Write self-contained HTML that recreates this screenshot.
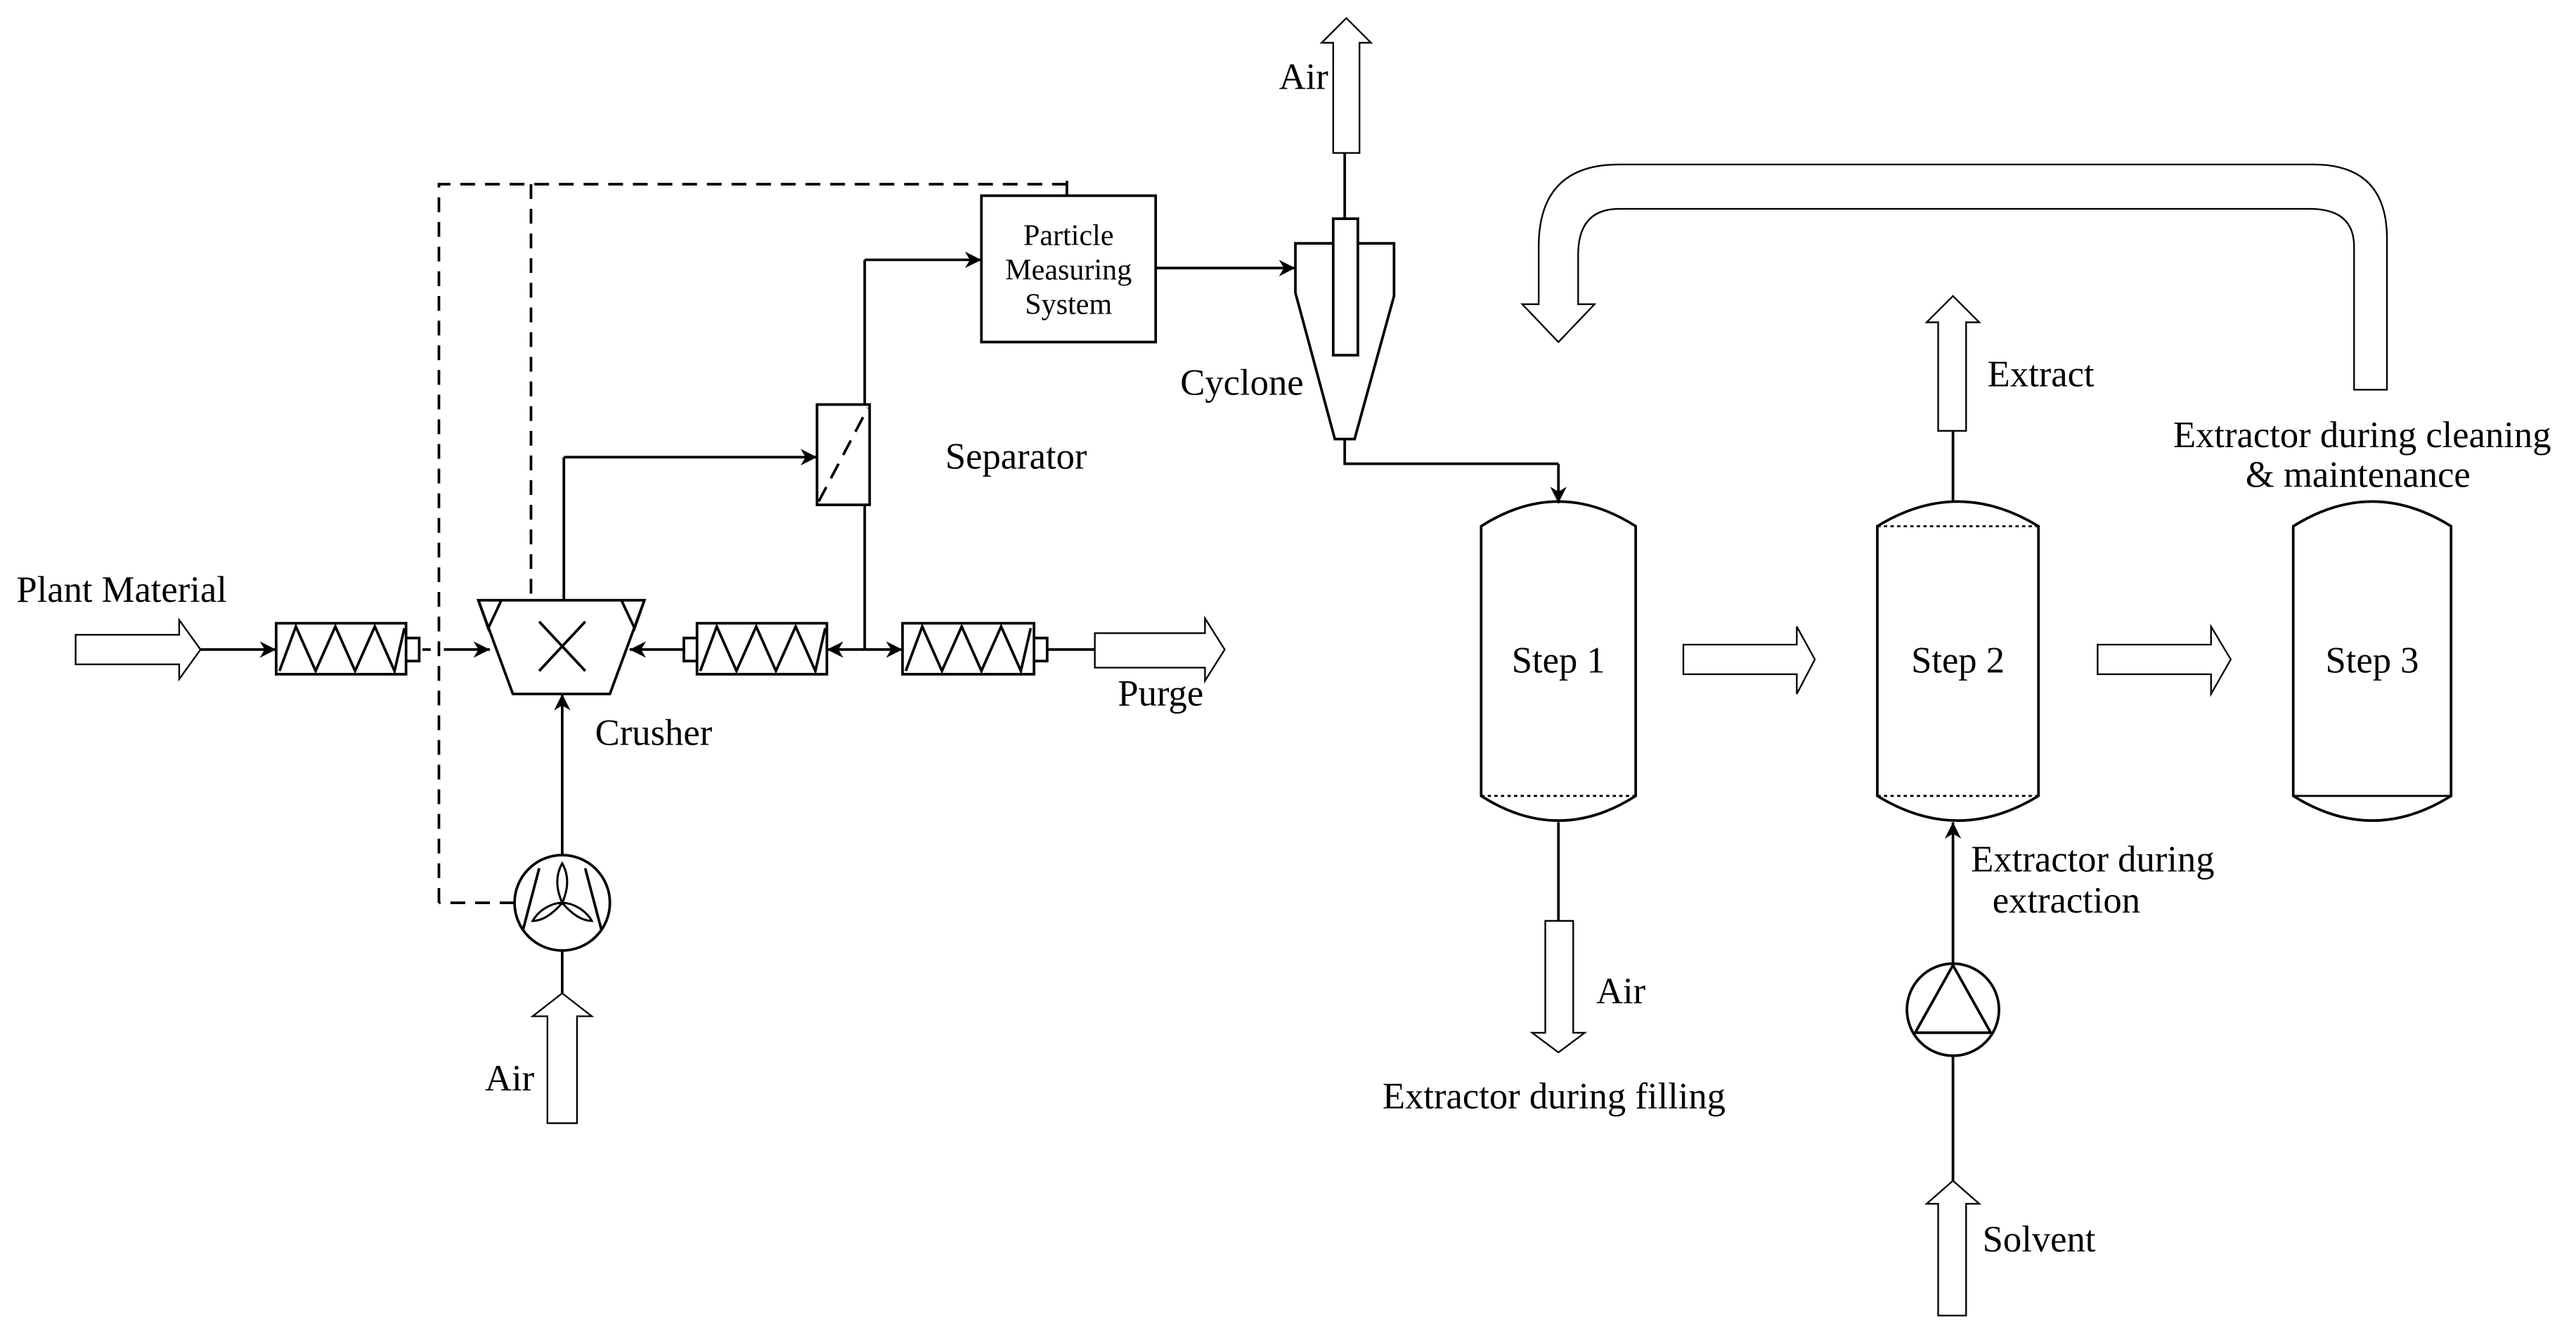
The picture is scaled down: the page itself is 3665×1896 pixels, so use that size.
<!DOCTYPE html>
<html><head><style>html,body{margin:0;padding:0;background:#fff}svg{display:block}</style></head><body>
<svg width="3665" height="1896" viewBox="0 0 1567 810.6" preserveAspectRatio="none" xmlns="http://www.w3.org/2000/svg" font-family="'Liberation Serif', serif" font-size="22.5">
<defs>
<marker id="a" viewBox="0 0 10 10" refX="10" refY="5" markerWidth="10" markerHeight="10" markerUnits="userSpaceOnUse" orient="auto"><path d="M0,0 L10,5 L0,10 L3,5 z" fill="#000"/></marker>
</defs>
<g stroke="#000" fill="none" stroke-width="1.6">
<path d="M46,386 H109 V377 L122,395 L109,413 V404 H46 Z" stroke-width="1"/>
<line x1="122" y1="395" x2="168" y2="395" marker-end="url(#a)"/>
<rect x="168" y="379" width="79" height="31"/>
<path d="M247,388 H255 V402 H247"/>
<path d="M170,408 L180,381 L192,408 L204,381 L216,408 L228,381 L240,408 L246,382"/>
<line x1="257" y1="395" x2="262" y2="395" stroke-dasharray="5,4"/>
<line x1="270" y1="395" x2="298" y2="395" marker-end="url(#a)"/>
<path d="M267,549 V112 H649" stroke-dasharray="9,6"/>
<path d="M313,549 H267" stroke-dasharray="9,6"/>
<path d="M323,112 V365" stroke-dasharray="9,6"/>
<line x1="649" y1="110" x2="649" y2="119"/>
<path d="M291,365 H392 L371,422 H312 Z"/>
<path d="M291,365 L297,382 L305,365 M392,365 L386,382 L378,365"/>
<path d="M328,378 L356,408 M356,378 L328,408"/>
<line x1="343" y1="365" x2="343" y2="278"/>
<line x1="343" y1="278" x2="497" y2="278" marker-end="url(#a)"/>
<rect x="497" y="246" width="32" height="61"/>
<line x1="498" y1="305" x2="528" y2="248" stroke-dasharray="10,6"/>
<line x1="526" y1="246" x2="526" y2="158"/>
<line x1="526" y1="158" x2="597" y2="158" marker-end="url(#a)"/>
<line x1="526" y1="307" x2="526" y2="395"/>
<rect x="597" y="119" width="106" height="89"/>
<line x1="703" y1="163" x2="788" y2="163" marker-end="url(#a)"/>
<rect x="424" y="379" width="79" height="31"/>
<path d="M424,388 H416 V402 H424"/>
<path d="M426,408 L436,381 L448,408 L460,381 L472,408 L484,381 L496,408 L502,382"/>
<line x1="526" y1="395" x2="503" y2="395" marker-end="url(#a)"/>
<line x1="416" y1="395" x2="383" y2="395" marker-end="url(#a)"/>
<rect x="549" y="379" width="80" height="31"/>
<path d="M629,388 H637 V402 H629"/>
<path d="M551,408 L561,381 L573,408 L585,381 L597,408 L609,381 L621,408 L627,382"/>
<line x1="526" y1="395" x2="549" y2="395" marker-end="url(#a)"/>
<line x1="637" y1="395" x2="666" y2="395"/>
<path d="M666,385 H733 V376 L745,395 L733,414 V406 H666 Z" stroke-width="1"/>
<circle cx="342" cy="549" r="29"/>
<path d="M318,566 L328,528 M366,566 L356,528"/>
<path d="M342,549 C338,540 338,532 342,525 C346,532 346,540 342,549 Z M342,549 C336,556 330,560 324,560 C328,553 336,549 342,549 Z M342,549 C348,556 354,560 360,560 C356,553 348,549 342,549 Z" stroke-width="1.3"/>
<line x1="342" y1="520" x2="342" y2="422" marker-end="url(#a)"/>
<line x1="342" y1="578" x2="342" y2="604"/>
<path d="M342,604 L360,618 H351 V683 H333 V618 H324 Z" stroke-width="1"/>
<!-- Cyclone -->
<path d="M788,148 H848 V180 L824,267 H812 L788,178 Z"/>
<rect x="811" y="133" width="15" height="83" fill="#fff"/>
<line x1="818" y1="133" x2="818" y2="93"/>
<path d="M811,93 V26 H804 L819,11 L834,26 H827 V93 Z" stroke-width="1"/>
<path d="M818,267 V282 H948"/>
<line x1="948" y1="282" x2="948" y2="306" marker-end="url(#a)"/>
<path d="M901,320 Q948,290 995,320 V484 Q948,514 901,484 Z"/>
<line x1="901" y1="484" x2="995" y2="484" stroke-dasharray="2,2" stroke-width="1.2"/>
<path d="M1142,320 Q1191,290 1240,320 V484 Q1191,514 1142,484 Z"/>
<line x1="1142" y1="320" x2="1240" y2="320" stroke-dasharray="2,2" stroke-width="1.2"/>
<line x1="1142" y1="484" x2="1240" y2="484" stroke-dasharray="2,2" stroke-width="1.2"/>
<path d="M1395,320 Q1443,290 1491,320 V484 Q1443,514 1395,484 Z"/>
<line x1="1395" y1="484" x2="1491" y2="484" stroke-width="1.2"/>
<path d="M1024,392 H1093 V381 L1104,401 L1093,422 V410 H1024 Z" stroke-width="1"/>
<path d="M1276,392 H1345 V381 L1357,401 L1345,422 V410 H1276 Z" stroke-width="1"/>
<line x1="1188" y1="305" x2="1188" y2="262"/>
<path d="M1179,262 V196 H1172 L1188,180 L1204,196 H1196 V262 Z" stroke-width="1"/>
<line x1="948" y1="500" x2="948" y2="560"/>
<path d="M940,560 H957 V628 H964 L948,640 L932,628 H940 Z" stroke-width="1"/>
<line x1="1188" y1="586" x2="1188" y2="500" marker-end="url(#a)"/>
<circle cx="1188" cy="614" r="28"/>
<path d="M1188,587 L1211,628 H1165 Z"/>
<line x1="1188" y1="642" x2="1188" y2="718"/>
<path d="M1188,718 L1204,732 H1196 V800 H1179 V732 H1172 Z" stroke-width="1"/>
<path d="M1452,237 V145 Q1452,100 1407,100 H985 Q936,100 936,150 V185 H926 L948,208 L970,185 H960 V155 Q960,127 985,127 H1405 Q1432,127 1432,150 V237 Z" stroke-width="1"/>
</g>
<g fill="#000">
<text x="10" y="366">Plant Material</text>
<text x="362" y="453">Crusher</text>
<text x="575" y="285">Separator</text>
<text x="650" y="149" text-anchor="middle" font-size="18">Particle</text>
<text x="650" y="170" text-anchor="middle" font-size="18">Measuring</text>
<text x="650" y="191" text-anchor="middle" font-size="18">System</text>
<text x="680" y="429">Purge</text>
<text x="295" y="663">Air</text>
<text x="778" y="54">Air</text>
<text x="718" y="240">Cyclone</text>
<text x="948" y="409" text-anchor="middle">Step 1</text>
<text x="1191" y="409" text-anchor="middle">Step 2</text>
<text x="1443" y="409" text-anchor="middle">Step 3</text>
<text x="1209" y="235">Extract</text>
<text x="1322" y="272">Extractor during cleaning</text>
<text x="1366" y="296">&amp; maintenance</text>
<text x="971" y="610">Air</text>
<text x="841" y="674">Extractor during filling</text>
<text x="1199" y="530">Extractor during</text>
<text x="1212" y="555">extraction</text>
<text x="1206" y="761">Solvent</text>
</g>
</svg>
</body></html>
